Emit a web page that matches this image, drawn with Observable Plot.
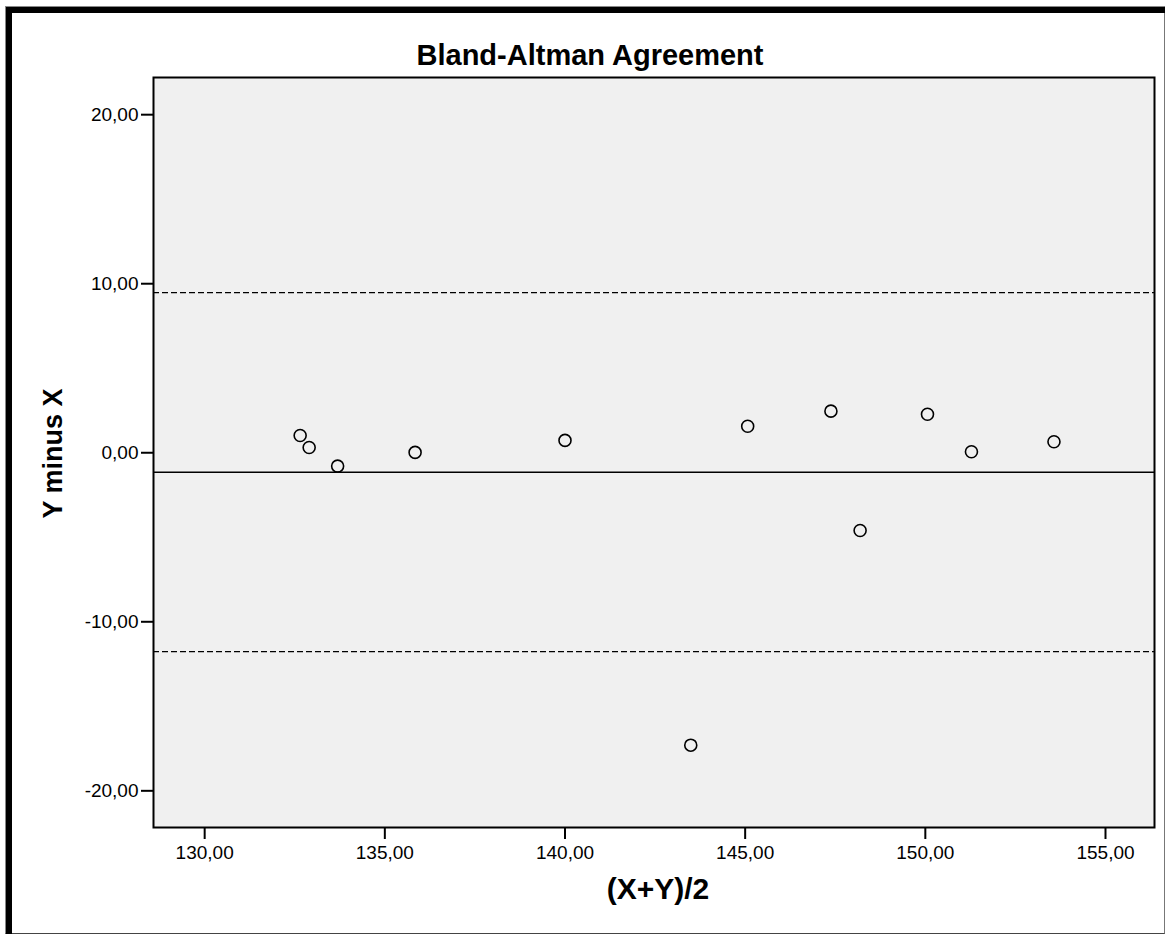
<!DOCTYPE html>
<html>
<head>
<meta charset="utf-8">
<script src="https://cdn.jsdelivr.net/npm/d3@7"></script>
<script src="https://cdn.jsdelivr.net/npm/@observablehq/plot@0.6"></script>
<style>
  html, body { margin: 0; padding: 0; background: #fff; }
  #wrap { position: relative; width: 1166px; height: 936px; overflow: hidden; font-family: "Liberation Sans", Arial, sans-serif; }
  #frameOuter { position: absolute; left: 5px; top: 6px; width: 1160px; height: 928px; border-top: 1px solid #888; border-left: 1px solid #888; border-right: 1px solid #777; border-bottom: 1px solid #444; box-sizing: border-box; }
  #frameInner { position: absolute; left: 6px; top: 7px; width: 1159px; height: 927px; border-top: 6px solid #000; border-left: 6px solid #000; box-sizing: border-box; }
  #chart { position: absolute; left: 0; top: 0; }
</style>
</head>
<body>
<div id="wrap">
  <div id="frameOuter"></div>
  <div id="frameInner"></div>
  <div id="chart"></div>
</div>
<script>
// Data: mean of (X, Y) and difference Y - X
const meanXY = [132.65, 132.90, 133.69, 135.84, 140.00, 143.49, 145.07, 147.38, 148.19, 150.06, 151.28, 153.57];
const diffYX = [1.02, 0.31, -0.79, 0.02, 0.73, -17.30, 1.57, 2.46, -4.60, 2.28, 0.06, 0.65];
// Reference lines: mean difference and limits of agreement
const meanDiff = [-1.15];
const limits = [9.47, -11.76];
const xTicks = [130, 135, 140, 145, 150, 155];
const yTicks = [-20, -10, 0, 10, 20];
const titleText = "Bland-Altman Agreement";
const xLabel = "(X+Y)/2";
const yLabel = "Y minus X";

const points = meanXY.map((m, i) => ({m, d: diffYX[i]}));
const fmt = v => v.toFixed(2).replace(".", ",");

const chart = Plot.plot({
  width: 1166,
  height: 936,
  marginLeft: 153,
  marginRight: 12,
  marginTop: 77,
  marginBottom: 109,
  style: {fontFamily: "'Liberation Sans', Arial, sans-serif", fontSize: "19px", background: "transparent", color: "#000"},
  x: {domain: [128.58, 156.36], label: null},
  y: {domain: [-22.17, 22.2], label: null},
  marks: [
    Plot.frame({fill: "#f0f0f0", stroke: null}),
    Plot.ruleY(limits, {stroke: "#000", strokeWidth: 1.3, strokeDasharray: "6,3"}),
    Plot.ruleY(meanDiff, {stroke: "#000", strokeWidth: 1.5}),
    Plot.dot(points, {x: "m", y: "d", r: 6, stroke: "#000", strokeWidth: 1.6, fill: "none"}),
    Plot.frame({stroke: "#000", strokeWidth: 2}),
    Plot.axisX({ticks: xTicks, tickFormat: fmt, tickSize: 12, tickPadding: 6, strokeWidth: 2, fontSize: 19, label: null}),
    Plot.axisY({ticks: yTicks, tickFormat: fmt, tickSize: 12, tickPadding: 3, strokeWidth: 2, fontSize: 19, label: null}),
    Plot.text([titleText], {frameAnchor: "top", textAnchor: "middle", lineAnchor: "middle", dy: -22, dx: -64, fontSize: 29, fontWeight: "bold", text: d => d}),
    Plot.text([xLabel], {frameAnchor: "bottom", textAnchor: "middle", lineAnchor: "middle", dy: 62, dx: 4, fontSize: 30, fontWeight: "bold", text: d => d}),
    Plot.text([yLabel], {frameAnchor: "left", textAnchor: "middle", dx: -100, dy: 1, rotate: -90, fontSize: 27, fontWeight: "bold", text: d => d})
  ]
});
document.getElementById("chart").appendChild(chart);
</script>
</body>
</html>
